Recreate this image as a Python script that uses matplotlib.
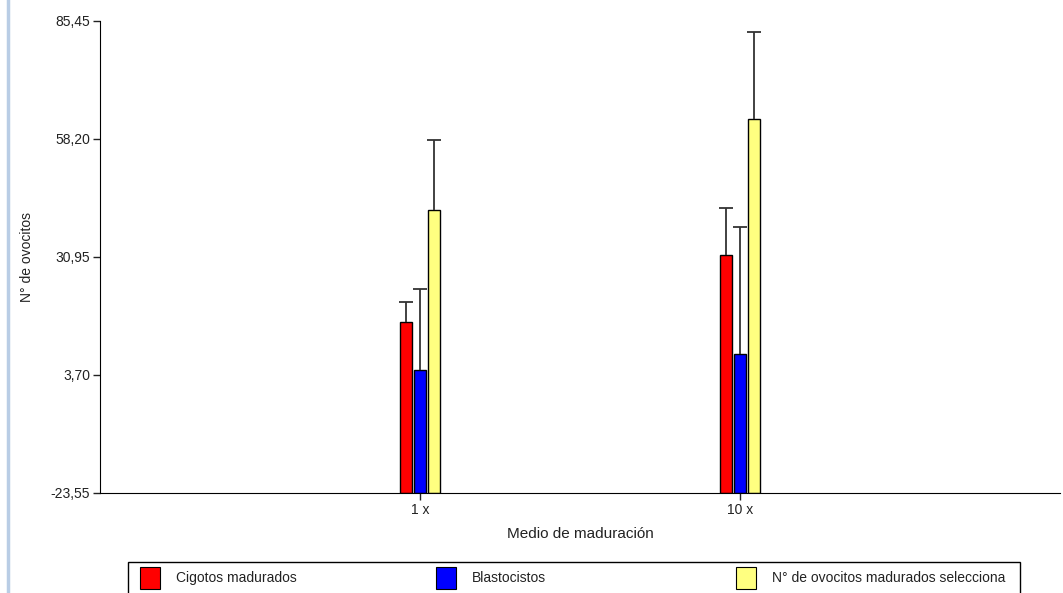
import matplotlib.pyplot as plt
from matplotlib.patches import Rectangle
from matplotlib.lines import Line2D

plt.rcParams['font.family'] = ['Liberation Sans', 'DejaVu Sans']

# data
categorias = ['1 x', '10 x']
series = ['Cigotos madurados', 'Blastocistos', 'N° de ovocitos madurados selecciona']
cigotos = [16.0, 31.5]
cigotos_err = [4.6, 10.7]
blasto = [4.9, 8.6]
blasto_err = [18.7, 29.2]
ovocitos = [41.7, 62.8]
ovocitos_err = [16.2, 20.1]
colores = ['#ff0000', '#0000ff', '#ffff80']
yticks = [-23.55, 3.70, 30.95, 58.20, 85.45]

fig = plt.figure(figsize=(10.63, 5.93), dpi=100)
ax = fig.add_axes([100/1063, 1 - 493/593, (1060-100)/1063, (493-21)/593])

x = [1, 2]
w = 0.0375
off = [-0.045, 0, 0.045]
base = yticks[0]
for vals, errs, c, o in zip([cigotos, blasto, ovocitos],
                            [cigotos_err, blasto_err, ovocitos_err], colores, off):
    xs = [xi + o for xi in x]
    # bars start at the bottom of the axis
    ax.bar(xs, [v - base for v in vals], width=w, bottom=base, color=c,
           edgecolor='black', linewidth=1, zorder=2)
    eb = ax.errorbar(xs, vals, yerr=[[0]*len(vals), errs], fmt='none',
                     ecolor='#333333', elinewidth=1.3, capsize=5, capthick=1.3, zorder=3)
    eb[1][0].set_visible(False)  # no cap at the bar top

ax.set_xlim(0, 3)
ax.set_ylim(yticks[0], yticks[-1])
ax.set_xticks(x)
ax.set_xticklabels(categorias)
ax.set_yticks(yticks)
ax.set_yticklabels([('%.2f' % t).replace('.', ',') for t in yticks])
ax.tick_params(labelsize=10, length=5, width=1, pad=2, colors='#222222')
for s in ['top', 'right']:
    ax.spines[s].set_visible(False)
ax.set_xlabel('Medio de maduración', fontsize=11, color='#222222', va='center')
ax.xaxis.set_label_coords(0.5, -(534-493)/472)
ax.set_ylabel('N° de ovocitos', fontsize=10, color='#222222', va='center')
ax.yaxis.set_label_coords(-(100-27)/960, 0.5)

# window border on the left
fig.add_artist(Line2D([8/1063, 8/1063], [0, 1], color='#b9cde5', lw=2.5))

# legend box (cut at the bottom of the image)
fig.add_artist(Rectangle((128/1063, -0.02), (1020-128)/1063, (593-562)/593 + 0.02,
                         transform=fig.transFigure, facecolor='white',
                         edgecolor='black', linewidth=1))
sw_x = [140, 436, 736]
for sx, c, name in zip(sw_x, colores, series):
    fig.add_artist(Rectangle((sx/1063, 1 - 589/593), 20/1063, 22/593,
                             transform=fig.transFigure, facecolor=c,
                             edgecolor='black', linewidth=0.8))
    fig.text((sx + 36)/1063, 1 - 578/593, name, fontsize=10, va='center',
             color='#222222')

fig.savefig('out.png', dpi=100)
